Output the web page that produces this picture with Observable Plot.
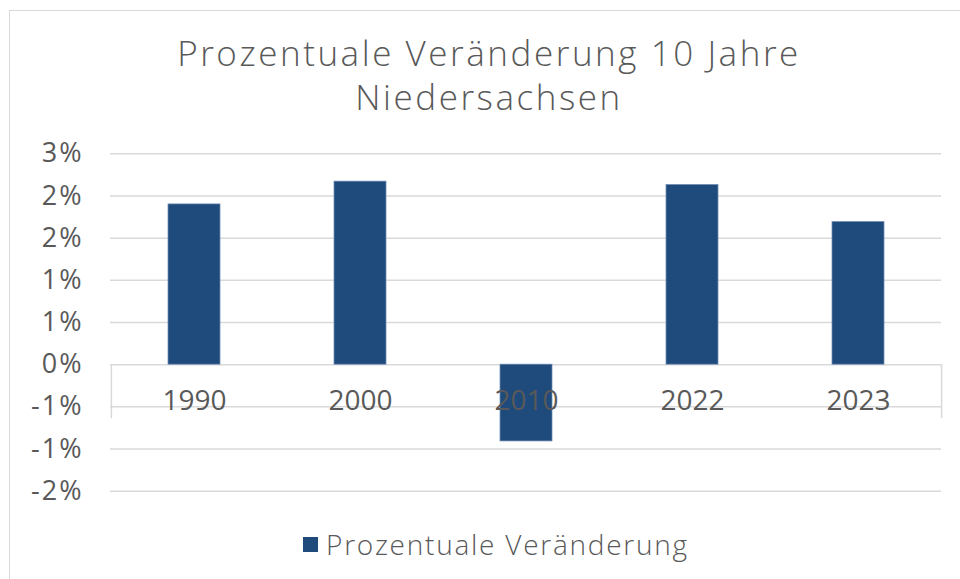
<!DOCTYPE html>
<html>
<head>
<meta charset="utf-8">
<script src="https://cdn.jsdelivr.net/npm/d3@7"></script>
<script src="https://cdn.jsdelivr.net/npm/@observablehq/plot@0.6"></script>
<style>
  html, body { margin: 0; padding: 0; background: #fff; }
  body { width: 960px; height: 579px; position: relative; overflow: hidden; font-family: "Open Sans", sans-serif; color: #595959; }
  #frame { position: absolute; left: 9px; top: 10px; width: 1000px; height: 700px; border: 1px solid #d9d9d9; box-sizing: border-box; }
  #title { position: absolute; left: 9px; top: 31px; width: 960px; text-align: center; font-size: 35px; line-height: 44px; color: #595959; letter-spacing: 2.55px; font-weight: 300; }
  #chart { position: absolute; left: 0; top: 130px; }
  #legend { position: absolute; left: 303px; top: 527px; height: 34px; display: flex; align-items: center; }
  #legend .sw { width: 15px; height: 15px; background: #1f4a7c; margin-right: 8px; }
  #legend .lb { font-size: 28px; line-height: 34px; color: #595959; letter-spacing: 1.75px; font-weight: 300; }
</style>
</head>
<body>
<div id="frame"></div>
<div id="title">Prozentuale Veränderung 10 Jahre<br>Niedersachsen</div>
<div id="chart"></div>
<div id="legend"><div class="sw"></div><div class="lb">Prozentuale Veränderung</div></div>
<script>
const years = ["1990", "2000", "2010", "2022", "2023"];
const values = [1.90, 2.17, -0.91, 2.13, 1.69];
const yTicks = [-1.5, -1, -0.5, 0, 0.5, 1, 1.5, 2, 2.5];
const yTickLabels = ["-2%", "-1%", "-1%", "0%", "1%", "1%", "2%", "2%", "3%"];
const seriesName = "Prozentuale Veränderung";

const data = years.map((y, i) => ({year: y, value: values[i]}));
const labelMap = new Map(yTicks.map((t, i) => [t, yTickLabels[i]]));

const W = 960, H = 380, ML = 110, MR = 19;
const step = (W - ML - MR) / years.length;
const pInner = 0.687;

const chart = Plot.plot({
  width: W,
  height: H,
  marginTop: 23.3,
  marginBottom: 19.3,
  marginLeft: ML,
  marginRight: MR,
  style: {fontFamily: "Open Sans, sans-serif", fontSize: "27px", color: "#595959", background: "transparent", overflow: "visible"},
  x: {type: "band", domain: years, paddingInner: pInner, paddingOuter: pInner / 2, axis: null},
  y: {domain: [-1.5, 2.5], ticks: yTicks, tickFormat: d => labelMap.get(d), tickSize: 0, tickPadding: 27, label: null},
  marks: [
    Plot.ruleY(yTicks, {stroke: "#d9d9d9", strokeWidth: 1.5}),
    Plot.ruleX([years[0]], {x: d => d, y1: 0, y2: -0.64, dx: -step / 2, stroke: "#d9d9d9", strokeWidth: 1.5}),
    Plot.ruleX([years[years.length - 1]], {x: d => d, y1: 0, y2: -0.64, dx: step / 2, stroke: "#d9d9d9", strokeWidth: 1.5}),
    Plot.barY(data, {x: "year", y: "value", fill: "#1f4a7c", stroke: "#6f8cb3", strokeWidth: 0.75}),
    Plot.text(data, {x: "year", y: () => 0, text: "year", dy: 36, fontSize: 28, fill: "#595959", style: "letter-spacing:0.5px"})
  ]
});
chart.querySelectorAll("g[aria-label^='y-axis'] text").forEach(t => t.setAttribute("letter-spacing", "2px"));
document.getElementById("chart").appendChild(chart);
</script>
</body>
</html>
